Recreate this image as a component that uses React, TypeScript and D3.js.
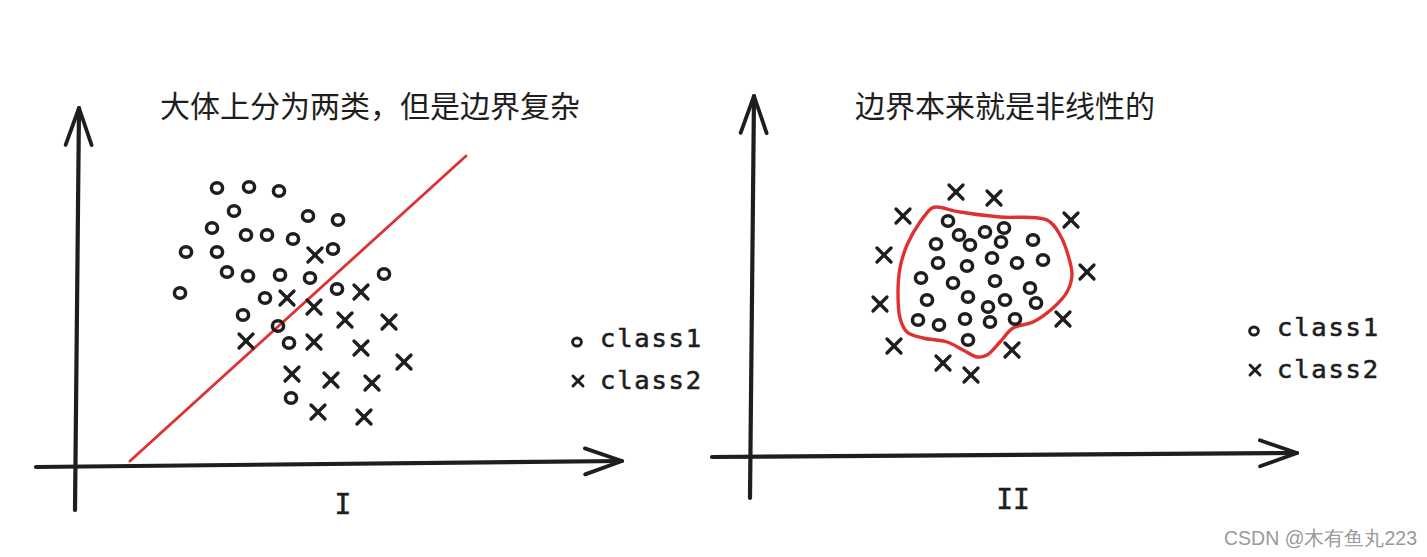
import React from 'react';
import * as d3 from 'd3';

// sketch units: x to the right of each y-axis, y above each x-axis
const class1I: [number, number][] = [
  [142, 279], [174, 280], [204, 276], [159, 256], [233, 251], [263, 247],
  [137, 239], [171, 232], [192, 232], [218, 228], [258, 218], [111, 215],
  [142, 215], [152, 195], [173, 191], [205, 192], [235, 189], [309, 193],
  [105, 174], [190, 169], [262, 178], [168, 152], [203, 141], [214, 124],
  [216, 69],
];
const class2I: [number, number][] = [
  [240, 212], [212, 169], [239, 160], [286, 175], [270, 147], [314, 145],
  [171, 126], [239, 125], [286, 119], [329, 105], [217, 93], [256, 87],
  [297, 84], [243, 55], [289, 50],
];
const splitLineI: [number, number][] = [[55, 6], [391, 311]];

const class1II: [number, number][] = [
  [198, 236], [254, 229], [235, 225], [209, 222], [186, 213], [220, 212],
  [251, 215], [283, 217], [188, 194], [242, 199], [217, 191], [267, 194],
  [293, 197], [171, 179], [203, 174], [245, 176], [280, 169], [177, 157],
  [218, 160], [255, 157], [238, 150], [286, 154], [168, 137], [189, 132],
  [215, 138], [240, 135], [265, 138], [218, 117],
];
const class2II: [number, number][] = [
  [206, 265], [244, 259], [153, 241], [321, 237], [134, 202], [337, 185],
  [130, 153], [313, 138], [144, 111], [262, 107], [193, 94], [221, 82],
];
const boundaryII: [number, number][] = [
  [182, 249], [187, 250], [210, 245], [250, 240], [297, 237], [310, 222],
  [320, 195], [322, 182], [317, 165], [303, 149], [283, 135], [263, 129],
  [250, 115], [237, 102], [227, 100], [213, 107], [197, 115], [173, 119],
  [157, 125], [150, 139], [148, 165], [150, 189], [157, 212], [170, 235],
];

// axis extents in sketch units: [start, end]
const xAxisI: [number, number][] = [[-39, 0], [547, 6]];
const yAxisI: [number, number][] = [[0, -43], [4, 359]];
const xAxisII: [number, number][] = [[-38, 0], [547, 4]];
const yAxisII: [number, number][] = [[0, -41], [4, 361]];

const titleI = '大体上分为两类，但是边界复杂';
const titleII = '边界本来就是非线性的';
const legendLabels = ['class1', 'class2'];
const panelNames = ['I', 'II'];

const INK = '#1e1e1e';
const RED = '#e03131';
const MONO = '"DejaVu Sans Mono", "Liberation Mono", monospace';
const CJK = '"Noto Sans CJK SC", "Noto Sans", sans-serif';

const Arrow = ({ pts, sx, sy }) => {
  const [a, b] = pts.map(([px, py]) => [sx(px), sy(py)]);
  const dx = b[0] - a[0], dy = b[1] - a[1];
  const len = Math.hypot(dx, dy);
  const ux = dx / len, uy = dy / len;
  const back = 37, spread = 13;
  const b1 = [b[0] - back * ux - spread * uy, b[1] - back * uy + spread * ux];
  const b2 = [b[0] - back * ux + spread * uy, b[1] - back * uy - spread * ux];
  return (
    <g stroke={INK} strokeWidth={4.2} strokeLinecap="round" fill="none">
      <line x1={a[0]} y1={a[1]} x2={b[0]} y2={b[1]} />
      <path d={`M${b1[0]},${b1[1]}L${b[0]},${b[1]}L${b2[0]},${b2[1]}`} strokeLinejoin="round" strokeWidth={3.8} />
    </g>
  );
};

const Ring = ({ cx, cy, r = 5.2, w = 3.5 }) => (
  <ellipse cx={cx} cy={cy} rx={r + 0.4} ry={r} fill="none" stroke={INK} strokeWidth={w} />
);

const Cross = ({ cx, cy, s = 7, w = 3.3 }) => (
  <g stroke={INK} strokeWidth={w} strokeLinecap="round">
    <line x1={cx - s} y1={cy - s} x2={cx + s} y2={cy + s} />
    <line x1={cx - s} y1={cy + s} x2={cx + s} y2={cy - s} />
  </g>
);

const Legend = ({ x, y }) => (
  <g>
    <Ring cx={x} cy={y} r={4} w={2.9} />
    <Cross cx={x + 1} cy={y + 39} s={5} w={2.9} />
    {legendLabels.map((t, i) => (
      <text key={t} x={x + 23} y={y + 5 + i * 42} fontFamily={MONO} fontSize={25.5}
        textLength={101} lengthAdjust="spacing" fill={INK} stroke={INK} strokeWidth={0.6}>{t}</text>
    ))}
  </g>
);

const Panel = ({ ox, oy, xAxis, yAxis, c1, c2, children, label, labelX, labelY, title, titleX, legendX, legendY }) => {
  const sx = d3.scaleLinear().domain([0, 500]).range([ox, ox + 500]);
  const sy = d3.scaleLinear().domain([0, 400]).range([oy, oy - 400]);
  return (
    <g>
      <text x={titleX} y={104} fontFamily={CJK} fontSize={30} fill={INK} dominantBaseline="central">{title}</text>
      <Arrow pts={yAxis} sx={sx} sy={sy} />
      <Arrow pts={xAxis} sx={sx} sy={sy} />
      {children(sx, sy)}
      {c1.map(([a, b], i) => <Ring key={'o' + i} cx={sx(a)} cy={sy(b)} />)}
      {c2.map(([a, b], i) => <Cross key={'x' + i} cx={sx(a)} cy={sy(b)} />)}
      <Legend x={legendX} y={legendY} />
      <text x={labelX} y={labelY} fontFamily={MONO} fontSize={28} fill={INK} stroke={INK} strokeWidth={0.5}
        textAnchor="middle" dominantBaseline="central">{label}</text>
    </g>
  );
};

export default function App() {
  const line = d3.line().curve(d3.curveCatmullRomClosed.alpha(0.5));
  return (
    <svg width={1427} height={557} style={{ position: 'absolute', left: 0, top: 0, background: '#fff' }}>
      <rect width={1427} height={557} fill="#fff" />
      <Panel ox={75} oy={467} xAxis={xAxisI} yAxis={yAxisI} c1={class1I} c2={class2I}
        label={panelNames[0]} labelX={343} labelY={504} title={titleI} titleX={160}
        legendX={577} legendY={342}>
        {(sx, sy) => (
          <line x1={sx(splitLineI[0][0])} y1={sy(splitLineI[0][1])} x2={sx(splitLineI[1][0])} y2={sy(splitLineI[1][1])}
            stroke={RED} strokeWidth={2.8} strokeLinecap="round" />
        )}
      </Panel>
      <Panel ox={750} oy={457} xAxis={xAxisII} yAxis={yAxisII} c1={class1II} c2={class2II}
        label={panelNames[1]} labelX={1013} labelY={499} title={titleII} titleX={855}
        legendX={1254} legendY={331}>
        {(sx, sy) => (
          <path d={line(boundaryII.map(([a, b]) => [sx(a), sy(b)]))} fill="none" stroke={RED}
            strokeWidth={3.4} strokeLinejoin="round" />
        )}
      </Panel>
      <text x={1224} y={538} fontFamily='"Liberation Sans", Arial, sans-serif' fontSize={19.5} fill="#9a9a9a"
        dominantBaseline="central">CSDN @木有鱼丸223</text>
    </svg>
  );
}
